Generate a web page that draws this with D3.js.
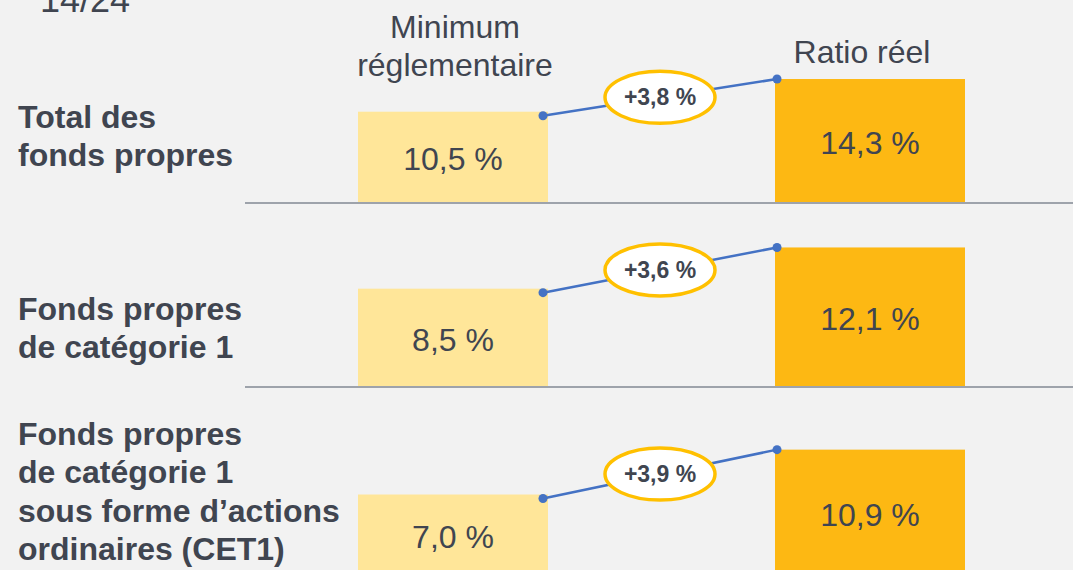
<!DOCTYPE html>
<html>
<head>
<meta charset="utf-8">
<script src="https://cdn.jsdelivr.net/npm/d3@7"></script>
<style>
  html, body { margin: 0; padding: 0; background: #f2f2f2; }
  svg { display: block; font-family: "Liberation Sans", Arial, sans-serif; }
</style>
</head>
<body>
<svg id="chart" width="1073" height="570"></svg>
<script>
// données
const rowLabels = [
  ["Total des", "fonds propres"],
  ["Fonds propres", "de catégorie 1"],
  ["Fonds propres", "de catégorie 1", "sous forme d’actions", "ordinaires (CET1)"]
];
const columns = ["Minimum réglementaire", "Ratio réel"];
const minimum = [10.5, 8.5, 7.0];
const actual = [14.3, 12.1, 10.9];
const pageLabel = "14/24";

// mise en page de chaque bloc (ligne de base, pixels par point, 1re ligne du libellé)
const panels = [
  { base: 202, k: 8.6, labelY: 128 },
  { base: 386, k: 11.45, labelY: 320 },
  { base: 575, k: 11.5, labelY: 445 }
];

const textColor = "#404550";
const lightColor = "#ffe699";
const darkColor = "#fdb813";
const lineColor = "#4472c4";

const fr = d3.formatLocale({ decimal: ",", thousands: " ", grouping: [3], currency: ["", " €"] });
const fmt = fr.format(".1f");

const svg = d3.select("#chart");

const x = d3.scaleBand()
  .domain(columns)
  .range([358, 965])
  .paddingInner(0.5444)
  .paddingOuter(0);

// numéro de page
svg.append("text")
  .attr("x", 40).attr("y", 12)
  .attr("font-size", 36)
  .attr("fill", textColor)
  .text(pageLabel);

// en-têtes de colonnes
svg.append("text")
  .attr("text-anchor", "middle")
  .attr("font-size", 32)
  .attr("fill", textColor)
  .selectAll("tspan")
  .data(["Minimum", "réglementaire"])
  .join("tspan")
  .attr("x", x(columns[0]) + x.bandwidth() / 2 + 2)
  .attr("y", (d, i) => 38 + i * 38.4)
  .text(d => d);

svg.append("text")
  .attr("text-anchor", "middle")
  .attr("font-size", 32)
  .attr("fill", textColor)
  .attr("x", x(columns[1]) + x.bandwidth() / 2 - 8)
  .attr("y", 63)
  .text(columns[1]);

panels.forEach((p, i) => {
  const y = d3.scaleLinear().domain([0, 15]).range([p.base, p.base - 15 * p.k]);
  const g = svg.append("g");

  // libellé de ligne
  g.append("text")
    .attr("font-size", 32)
    .attr("font-weight", "bold")
    .attr("fill", textColor)
    .selectAll("tspan")
    .data(rowLabels[i])
    .join("tspan")
    .attr("x", 18)
    .attr("y", (d, j) => p.labelY + j * 38.4)
    .text(d => d);

  const vals = [minimum[i], actual[i]];

  // barres
  g.selectAll("rect")
    .data(vals)
    .join("rect")
    .attr("x", (d, j) => x(columns[j]))
    .attr("y", d => y(d))
    .attr("width", x.bandwidth())
    .attr("height", d => y(0) - y(d))
    .attr("fill", (d, j) => j === 0 ? lightColor : darkColor);

  // valeurs
  g.selectAll("text.val")
    .data(vals)
    .join("text")
    .attr("class", "val")
    .attr("x", (d, j) => x(columns[j]) + x.bandwidth() / 2)
    .attr("y", d => (y(d) + y(0)) / 2 + 2)
    .attr("dy", "0.35em")
    .attr("text-anchor", "middle")
    .attr("font-size", 32)
    .attr("fill", textColor)
    .text(d => fmt(d) + " %");

  // ligne de base
  g.append("line")
    .attr("x1", 245).attr("x2", 1073)
    .attr("y1", p.base + 1).attr("y2", p.base + 1)
    .attr("stroke", "#9ea3ab")
    .attr("stroke-width", 2);

  // liaison entre les deux barres
  const x1 = x(columns[0]) + x.bandwidth() - 5, y1 = y(minimum[i]) + 4;
  const x2 = x(columns[1]) + 2, y2 = y(actual[i]);
  g.append("line")
    .attr("x1", x1).attr("y1", y1)
    .attr("x2", x2).attr("y2", y2)
    .attr("stroke", lineColor)
    .attr("stroke-width", 2.5);
  g.selectAll("circle.dot")
    .data([[x1, y1], [x2, y2]])
    .join("circle")
    .attr("class", "dot")
    .attr("cx", d => d[0]).attr("cy", d => d[1])
    .attr("r", 4.5)
    .attr("fill", lineColor);

  const mx = (x1 + x2) / 2, my = (y1 + y2) / 2;
  g.append("ellipse")
    .attr("cx", mx).attr("cy", my)
    .attr("rx", 55).attr("ry", 26)
    .attr("fill", "#ffffff")
    .attr("stroke", "#ffc000")
    .attr("stroke-width", 3.5);
  g.append("text")
    .attr("x", mx).attr("y", my)
    .attr("dy", "0.35em")
    .attr("text-anchor", "middle")
    .attr("font-size", 23)
    .attr("font-weight", "bold")
    .attr("fill", textColor)
    .text("+" + fmt(actual[i] - minimum[i]) + " %");
});
</script>
</body>
</html>
